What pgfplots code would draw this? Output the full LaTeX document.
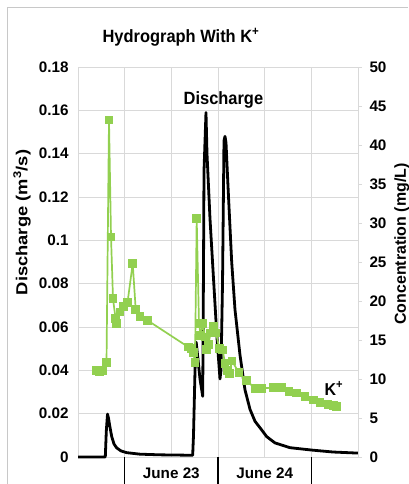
\documentclass[border=0pt]{standalone}
\usepackage{fontspec}
\setmainfont{Liberation Sans}
\usepackage{pgfplots}
\pgfplotsset{compat=1.18}
\definecolor{kgreen}{HTML}{92D050}
\definecolor{gridgray}{HTML}{D9D9D9}
\definecolor{framegray}{HTML}{C8C8C8}
\newcommand{\tf}{\fontsize{15.3}{18}\selectfont\bfseries}
\newcommand{\lf}{\fontsize{16}{19}\selectfont\bfseries}
\begin{document}
\begin{tikzpicture}[x=1bp,y=1bp]
\useasboundingbox (0,0) rectangle (408,484);
\draw[color=framegray, line width=1bp] (7,0) -- (7,476) -- (408,476);
\begin{axis}[
  at={(78bp,27bp)}, anchor=south west, scale only axis,
  width=280bp, height=390bp,
  xmin=0, xmax=72, ymin=0, ymax=0.18,
  xtick={0,12,24,36,48,60,72},
  xticklabels={,,June 23,,June 24,,},
  ytick={0,0.02,0.04,0.06,0.08,0.1,0.12,0.14,0.16,0.18},
  scaled y ticks=false,
  yticklabel style={/pgf/number format/fixed,/pgf/number format/precision=2},
  /pgf/number format/assume math mode=true,
  ticklabel style={font=\tf},
  xticklabel style={yshift=-7bp},
  yticklabel style={xshift=-6bp},
  major tick length=0pt,
  xtick pos=bottom, ytick pos=left,
  tick align=outside,
  grid=major,
  grid style={color=gridgray, line width=0.8bp},
  axis line style={draw=gridgray, line width=0.8bp},
  extra x ticks={12,36,60},
  extra x tick labels={},
  extra x tick style={grid=none, major tick length=27bp, tick style={black, line width=1.2bp}},
  clip=false,
]
\addplot[black, line width=2.8bp, line join=round] coordinates {
(0,0) (7.02,0) (7.28,0.012) (7.59,0.0198) (7.84,0.018) (8.10,0.015)
(8.67,0.0094) (9.26,0.006) (9.95,0.0042) (11.06,0.0028) (12.52,0.002)
(15.94,0.0013) (21.09,0.001) (29.49,0.0008) (29.70,0.01) (30.09,0.04)
(30.39,0.053) (30.86,0.045) (31.37,0.036) (32.07,0.028) (32.28,0.09)
(32.40,0.132) (32.91,0.159) (33.17,0.14) (33.94,0.11) (34.79,0.084)
(35.74,0.055) (36.51,0.036) (36.77,0.04) (37.16,0.08) (37.54,0.146)
(37.80,0.148) (38.06,0.145) (38.57,0.125) (39.52,0.09) (40.37,0.068)
(41.66,0.047) (42.94,0.031) (44.23,0.022) (45.51,0.0165) (46.80,0.0135)
(48.52,0.0094) (50.66,0.0065) (54.51,0.0043) (60.10,0.0032) (65.57,0.0023)
(72.0,0.0018)
};
\node[font=\fontsize{16.5}{19}\selectfont\bfseries] at (axis cs:37.4,0.1648) {\scalebox{1}[1.08]{Discharge}};
\node[font=\lf] at (axis cs:65.8,0.0318) {\scalebox{1}[1.08]{K\textsuperscript{+}}};
\end{axis}
\begin{axis}[
  at={(78bp,27bp)}, anchor=south west, scale only axis,
  width=280bp, height=390bp,
  xmin=0, xmax=72, ymin=0, ymax=50,
  axis x line=none, axis y line*=right,
  ytick={0,5,10,15,20,25,30,35,40,45,50},
  /pgf/number format/assume math mode=true,
  ticklabel style={font=\tf},
  yticklabel style={xshift=4bp},
  major tick length=4bp, tick align=outside,
  tick style={color=gridgray, line width=0.8bp},
  y axis line style={draw=gridgray, line width=0.8bp},
]
\addplot[kgreen, line width=1.7bp, mark=square*, mark size=3.5bp,
  mark options={fill=kgreen, draw=kgreen}] coordinates {
(4.81,11.1) (5.53,11.0) (6.30,11.1) (7.33,12.1) (7.97,43.2) (8.49,28.2)
(9.0,20.3) (9.64,17.8) (9.95,17.1) (10.8,18.6) (11.65,19.3) (12.73,19.8)
(14.07,24.8) (14.84,18.9) (15.94,18.0) (17.92,17.5)
(28.36,14.1) (29.24,13.9) (29.65,13.4) (30.09,12.1) (30.52,30.6)
(31.11,17.1) (31.55,15.6) (32.07,17.1) (32.66,15.4) (33.09,13.8)
(33.51,14.4) (34.12,15.9) (34.79,16.7) (35.49,15.9) (36.33,13.9)
(37.21,13.7) (37.80,12.0) (38.39,11.1) (38.91,10.7) (39.60,12.3)
(41.40,10.8) (43.38,9.8) (45.51,8.8) (47.31,8.8) (50.22,8.9)
(52.38,8.9) (54.26,8.4) (56.24,8.2) (58.37,7.8) (60.51,7.3)
(62.23,7.0) (64.29,6.7) (65.65,6.6) (66.52,6.5)
};
\end{axis}
\node[font=\fontsize{16.5}{19}\selectfont\bfseries] at (181,447) {\scalebox{1}[1.08]{Hydrograph With K\textsuperscript{+}}};
\node[rotate=90, font=\lf] at (22,261.5) {\scalebox{1.15}[1]{Discharge (m\textsuperscript{3}/s)}};
\node[rotate=90, font=\lf] at (401.7,240) {Concentration (mg/L)};
\end{tikzpicture}
\end{document}
